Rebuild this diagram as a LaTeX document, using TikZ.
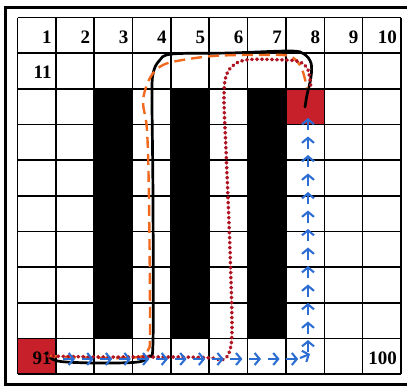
\documentclass[tikz,border=0pt]{standalone}
\usepackage{fontspec}
\setmainfont{Liberation Serif}
\usetikzlibrary{arrows.meta}
\definecolor{cellred}{RGB}{200,32,42}
\definecolor{pathorange}{RGB}{240,105,30}
\definecolor{pathred}{RGB}{175,20,35}
\definecolor{arrowblue}{RGB}{45,110,210}
\begin{document}
\begin{tikzpicture}[x=1pt,y=-1pt,
  gridline/.style={line width=1.6pt},
  num/.style={anchor=base east, inner sep=0pt, font=\fontsize{19}{19}\selectfont\bfseries},
  blk/.style={fill=black},
  redcell/.style={fill=cellred},
  blackpath/.style={line width=2.7pt, line cap=round, line join=round},
  orangepath/.style={draw=pathorange, line width=2.4pt, dash pattern=on 11pt off 6pt},
  redpath/.style={draw=pathred, line width=3.6pt, line cap=round, dash pattern=on 0.6pt off 4.4pt},
  bluearr/.style={draw=arrowblue, line width=2.1pt, -{Straight Barb[length=5pt,width=12pt]}}
]
\useasboundingbox (0,0) rectangle (407,389);
\fill[white] (0,0) rectangle (407,389);
\draw[line width=3pt] (5.5,7.5) rectangle (413,384);
% black columns
\foreach \c in {2,4,6}
  \fill[blk] ({17.5+\c*38.35},{17.5+2*35.65}) rectangle ({17.5+(\c+1)*38.35},{17.5+9*35.65});
% red cells
\fill[redcell] ({17.5+7*38.35},{17.5+2*35.65}) rectangle ({17.5+8*38.35},{17.5+3*35.65});
\fill[redcell] (17.5,{17.5+9*35.65}) rectangle ({17.5+38.35},374);
% grid
\foreach \i in {0,...,10} {
  \draw[gridline] ({17.5+\i*38.35},17.5) -- ({17.5+\i*38.35},374);
  \draw[gridline] (17.5,{17.5+\i*35.65}) -- (401,{17.5+\i*35.65});
}
% numbers
\foreach \n in {1,...,10}
  \node[num] (n\n) at ({17.5+\n*38.35-4},43.2) {\n};
\node[num] (n11) at (51.85,78.8) {11};
\node[num] (n91) at (51.85,364) {91};
\node[num] (n100) at (397,364) {100};
% black path
\draw[blackpath] plot[smooth, tension=0.55] coordinates {
  (46,353) (53,359.5) (66,362) (100,363) (138,362) (149,356) (153,342)
  (153,200) (152,100) (153,74) (159,61) (172,54) (230,53) (290,51)
  (304,54) (311,63) (311,77) (307,95) (305,107)};
% orange dashed path
\draw[orangepath] plot[smooth, tension=0.55] coordinates {
  (48,356) (100,358) (139,357) (148,350) (150,330) (149,200) (147,130)
  (143,102) (148,82) (157,69) (172,62) (213,56) (260,55) (289,56)
  (301,67) (307,88)};
% red dotted path
\draw[redpath] plot[smooth, tension=0.55] coordinates {
  (48,356) (100,357) (180,357) (212,358) (222,360) (229,353) (232,330)
  (230,250) (226,150) (224,100) (226,76) (235,64) (250,59.5) (285,60)
  (300,62) (308,70) (311,88)};
% blue arrows along bottom row
\foreach \x in {75,93.6,112.2,130.8,149.4,168,186.6,205.2,223.8,242.4,261,279.6,298.2}
  \draw[bluearr] ({\x-12},359) -- (\x,359);
\draw[bluearr] (300,358) -- (310,354);
% blue arrows up column 8
\foreach \y in {340,321.5,303,284.5,266,247.5,229,210.5,192,173.5,155,136.5,118}
  \draw[bluearr] (308,{\y+12}) -- (308,\y);
\end{tikzpicture}
\end{document}
